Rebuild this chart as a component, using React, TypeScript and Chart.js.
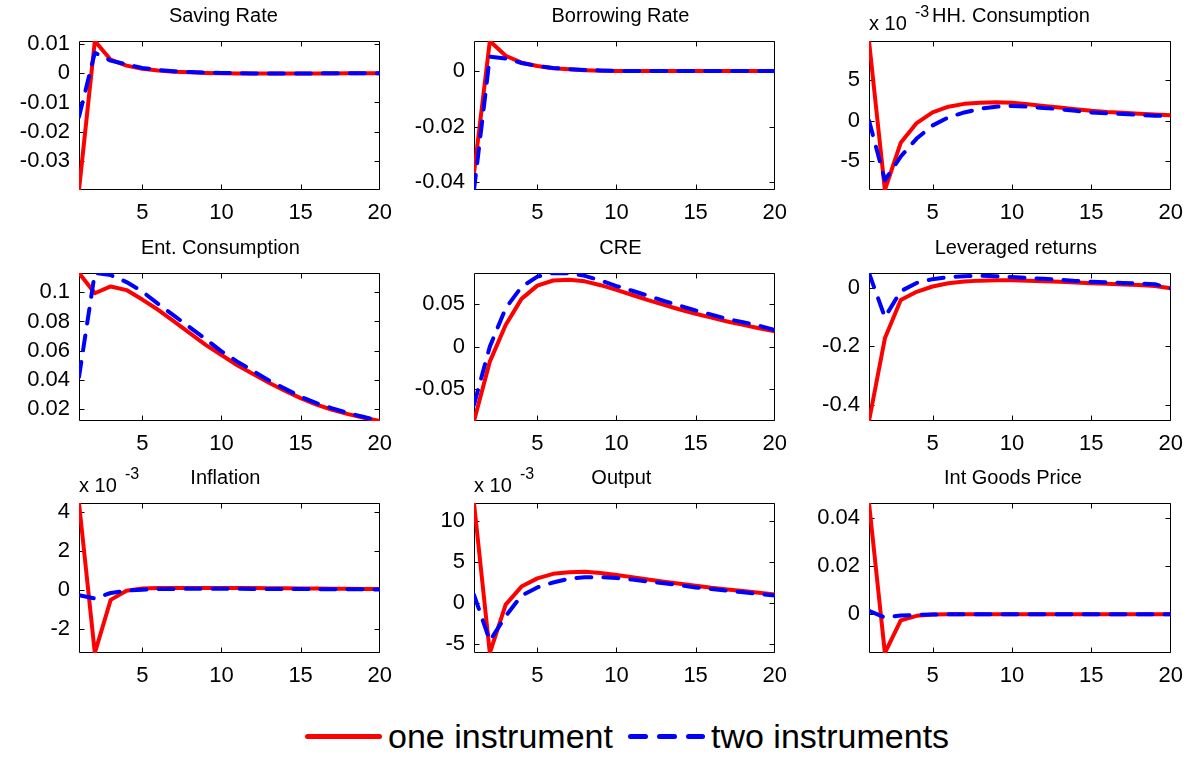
import React, { useEffect, useRef } from "react";
import { Chart, registerables } from "chart.js";

Chart.register(...registerables);

const FONT = "'Liberation Sans', Arial, Helvetica, sans-serif";
const RED = "#ff0000";
const BLUE = "#0000ff";

// ---------- data ----------
const periods = [1, 2, 3, 4, 5, 6, 7, 8, 9, 10, 11, 12, 13, 14, 15, 16, 17, 18, 19, 20];
const xTicks = [5, 10, 15, 20];
const seriesNames = ["one instrument", "two instruments"];

// Saving Rate
const savingOne = [-0.0399, 0.011, 0.0046, 0.0026, 0.0015, 0.0009, 0.0005, 0.0003, 0.0001, 0.0, -0.0001, -0.0001, -0.0001, -0.0001, -0.0001, -0.0001, -0.0001, 0.0, 0.0, 0.0];
const savingTwo = [-0.0149, 0.007, 0.0043, 0.003, 0.0018, 0.0011, 0.0007, 0.0004, 0.0002, 0.0001, 0.0, -0.0001, -0.0001, -0.0001, -0.0001, -0.0001, 0.0, 0.0, 0.0, 0.0];
const savingTicks = [-0.03, -0.02, -0.01, 0, 0.01];

// Borrowing Rate
const borrowOne = [-0.0368, 0.0108, 0.0055, 0.003, 0.0018, 0.001, 0.0006, 0.0003, 0.0001, 0.0, 0.0, 0.0, 0.0, 0.0, 0.0, 0.0, 0.0, 0.0, 0.0, 0.0];
const borrowTwo = [-0.0428, 0.0052, 0.0045, 0.0029, 0.0018, 0.0011, 0.0007, 0.0004, 0.0002, 0.0001, 0.0, 0.0, 0.0, 0.0, 0.0, 0.0, 0.0, 0.0, 0.0, 0.0];
const borrowTicks = [-0.04, -0.02, 0];

// HH. Consumption (x 10^-3)
const hhOne = [9.75, -8.5, -2.7, -0.3, 1.0, 1.7, 2.05, 2.2, 2.25, 2.2, 2.0, 1.8, 1.6, 1.4, 1.2, 1.05, 0.95, 0.85, 0.75, 0.65];
const hhTwo = [0.0, -7.3, -4.4, -2.2, -0.6, 0.4, 1.0, 1.45, 1.7, 1.8, 1.7, 1.55, 1.4, 1.2, 1.0, 0.9, 0.8, 0.7, 0.6, 0.55];
const hhTicks = [-5, 0, 5];

// Ent. Consumption
const entOne = [0.1132, 0.0993, 0.104, 0.1015, 0.095, 0.088, 0.08, 0.072, 0.064, 0.057, 0.05, 0.044, 0.038, 0.0325, 0.0275, 0.023, 0.0195, 0.0165, 0.014, 0.0118];
const entTwo = [0.042, 0.1132, 0.1118, 0.107, 0.1005, 0.092, 0.084, 0.076, 0.068, 0.0595, 0.0525, 0.046, 0.0395, 0.034, 0.0285, 0.024, 0.0205, 0.0172, 0.0145, 0.012];
const entTicks = [0.02, 0.04, 0.06, 0.08, 0.1];

// CRE
const creOne = [-0.0872, -0.0176, 0.0254, 0.056, 0.0715, 0.0775, 0.0785, 0.0765, 0.072, 0.0665, 0.0605, 0.0545, 0.049, 0.0435, 0.0385, 0.034, 0.0295, 0.0255, 0.0215, 0.018];
const creTwo = [-0.068, 0.0, 0.045, 0.07, 0.082, 0.0863, 0.0858, 0.083, 0.0775, 0.071, 0.0655, 0.0595, 0.0535, 0.048, 0.0425, 0.0375, 0.0325, 0.0285, 0.0245, 0.0195];
const creTicks = [-0.05, 0, 0.05];

// Leveraged returns
const levOne = [-0.4545, -0.1725, -0.042, -0.014, 0.004, 0.015, 0.021, 0.024, 0.025, 0.025, 0.024, 0.022, 0.02, 0.018, 0.015, 0.013, 0.011, 0.009, 0.006, -0.002];
const levTwo = [0.05, -0.101, -0.012, 0.016, 0.029, 0.036, 0.039, 0.041, 0.039, 0.036, 0.033, 0.03, 0.027, 0.023, 0.02, 0.018, 0.016, 0.014, 0.012, -0.003];
const levTicks = [-0.4, -0.2, 0];

// Inflation (x 10^-3)
const inflOne = [4.44, -3.21, -0.5, -0.03, 0.08, 0.1, 0.11, 0.11, 0.11, 0.11, 0.1, 0.1, 0.09, 0.09, 0.08, 0.08, 0.07, 0.07, 0.06, 0.06];
const inflTwo = [-0.26, -0.43, -0.15, -0.03, 0.02, 0.05, 0.06, 0.07, 0.07, 0.07, 0.07, 0.06, 0.06, 0.05, 0.05, 0.05, 0.04, 0.04, 0.04, 0.03];
const inflTicks = [-2, 0, 2, 4];

// Output (x 10^-3)
const outOne = [12.18, -6.09, -0.2, 2.0, 3.0, 3.55, 3.75, 3.8, 3.65, 3.4, 3.15, 2.85, 2.6, 2.35, 2.1, 1.85, 1.65, 1.45, 1.25, 1.05];
const outTwo = [1.0, -4.6, -1.6, 0.9, 1.9, 2.5, 2.95, 3.15, 3.15, 3.05, 2.85, 2.6, 2.4, 2.15, 1.9, 1.7, 1.5, 1.3, 1.1, 0.9];
const outTicks = [-5, 0, 5, 10];

// Int Goods Price
const igpOne = [0.0464, -0.0161, -0.0025, -0.0006, -0.0001, 0.0, 0.0, 0.0, 0.0, 0.0, 0.0, 0.0, 0.0, 0.0, 0.0, 0.0, 0.0, 0.0, 0.0, 0.0];
const igpTwo = [0.0015, -0.0013, -0.0005, -0.0002, -0.0001, 0.0, 0.0, 0.0, 0.0, 0.0, 0.0, 0.0, 0.0, 0.0, 0.0, 0.0, 0.0, 0.0, 0.0, 0.0];
const igpTicks = [0, 0.02, 0.04];

// ---------- layout ----------
const PAD_TOP = 45;
const PAD_RIGHT = 22;
const AXIS_W = 80;
const AXIS_H = 42;

type Panel = {
  title: string;
  one: number[];
  two: number[];
  yTicks: number[];
  exponent: string | null;
  left: number;
  top: number;
  width: number;
  height: number;
  titleDx: number;
};

const COLS = [79, 474, 869];
const ROWS = [
  { top: 41, height: 149 },
  { top: 273, height: 148 },
  { top: 503, height: 150 },
];

const panels: Panel[] = [
  { title: "Saving Rate", one: savingOne, two: savingTwo, yTicks: savingTicks, exponent: null, left: COLS[0], top: ROWS[0].top, width: 301, height: ROWS[0].height, titleDx: -6 },
  { title: "Borrowing Rate", one: borrowOne, two: borrowTwo, yTicks: borrowTicks, exponent: null, left: COLS[1], top: ROWS[0].top, width: 301, height: ROWS[0].height, titleDx: -4 },
  { title: "HH. Consumption", one: hhOne, two: hhTwo, yTicks: hhTicks, exponent: "-3", left: COLS[2], top: ROWS[0].top, width: 302, height: ROWS[0].height, titleDx: -9 },
  { title: "Ent. Consumption", one: entOne, two: entTwo, yTicks: entTicks, exponent: null, left: COLS[0], top: ROWS[1].top, width: 301, height: ROWS[1].height, titleDx: -9 },
  { title: "CRE", one: creOne, two: creTwo, yTicks: creTicks, exponent: null, left: COLS[1], top: ROWS[1].top, width: 301, height: ROWS[1].height, titleDx: -4 },
  { title: "Leveraged returns", one: levOne, two: levTwo, yTicks: levTicks, exponent: null, left: COLS[2], top: ROWS[1].top, width: 302, height: ROWS[1].height, titleDx: -4 },
  { title: "Inflation", one: inflOne, two: inflTwo, yTicks: inflTicks, exponent: "-3", left: COLS[0], top: ROWS[2].top, width: 301, height: ROWS[2].height, titleDx: -4 },
  { title: "Output", one: outOne, two: outTwo, yTicks: outTicks, exponent: "-3", left: COLS[1], top: ROWS[2].top, width: 301, height: ROWS[2].height, titleDx: -3 },
  { title: "Int Goods Price", one: igpOne, two: igpTwo, yTicks: igpTicks, exponent: null, left: COLS[2], top: ROWS[2].top, width: 302, height: ROWS[2].height, titleDx: -7 },
];

// ---------- plugin: MATLAB-style box, inward ticks, title, exponent ----------
const matlabAxes = {
  id: "matlabAxes",
  beforeDatasetsDraw(chart: any) {
    const { ctx, chartArea: a, scales } = chart;
    const L = Math.round(a.left) + 0.5;
    const R = Math.round(a.right) - 0.5;
    const T = Math.round(a.top) + 0.5;
    const B = Math.round(a.bottom) - 0.5;
    const TL = 5;
    ctx.save();
    ctx.strokeStyle = "#000";
    ctx.lineWidth = 1;
    ctx.beginPath();
    ctx.rect(L, T, R - L, B - T);
    scales.x.ticks.forEach((t: any) => {
      const px = Math.min(R, Math.round(scales.x.getPixelForValue(t.value)) + 0.5);
      ctx.moveTo(px, B);
      ctx.lineTo(px, B - TL);
      ctx.moveTo(px, T);
      ctx.lineTo(px, T + TL);
    });
    scales.y.ticks.forEach((t: any) => {
      const py = Math.round(scales.y.getPixelForValue(t.value)) + 0.5;
      ctx.moveTo(L, py);
      ctx.lineTo(L + TL, py);
      ctx.moveTo(R, py);
      ctx.lineTo(R - TL, py);
    });
    ctx.stroke();
    ctx.restore();
  },
  afterDraw(chart: any, _args: any, opts: any) {
    const { ctx, chartArea: a } = chart;
    ctx.save();
    ctx.fillStyle = "#000";
    ctx.textBaseline = "alphabetic";
    ctx.font = `20px ${FONT}`;
    ctx.textAlign = "center";
    ctx.fillText(opts.title, (a.left + a.right) / 2 + opts.dx, a.top - 19);
    if (opts.exponent) {
      ctx.textAlign = "left";
      ctx.font = `20px ${FONT}`;
      ctx.fillText("x 10", a.left, a.top - 11);
      ctx.font = `16px ${FONT}`;
      ctx.fillText(opts.exponent, a.left + 46, a.top - 24);
    }
    ctx.restore();
  },
};

function PanelChart({ p }: { p: Panel }) {
  const ref = useRef<HTMLCanvasElement>(null);
  useEffect(() => {
    const yMin = Math.min(...p.one, ...p.two);
    const yMax = Math.max(...p.one, ...p.two);
    const tickFont = { family: FONT, size: 22 };
    const chart = new Chart(ref.current as HTMLCanvasElement, {
      type: "line",
      data: {
        datasets: [
          {
            label: seriesNames[1],
            data: periods.map((x, i) => ({ x, y: p.two[i] })),
            borderColor: BLUE,
            backgroundColor: BLUE,
            borderWidth: 4,
            borderDash: [15, 12],
            borderCapStyle: "round",
            borderJoinStyle: "round",
            pointRadius: 0,
            tension: 0,
            fill: false,
            order: 0,
          },
          {
            label: seriesNames[0],
            data: periods.map((x, i) => ({ x, y: p.one[i] })),
            borderColor: RED,
            backgroundColor: RED,
            borderWidth: 4,
            borderJoinStyle: "round",
            pointRadius: 0,
            tension: 0,
            fill: false,
            order: 1,
          },
        ],
      },
      options: {
        animation: false,
        responsive: false,
        events: [],
        layout: { padding: { top: PAD_TOP, right: PAD_RIGHT, left: 0, bottom: 0 } },
        plugins: {
          legend: { display: false },
          tooltip: { enabled: false },
          title: { display: false },
          matlabAxes: { title: p.title, dx: p.titleDx, exponent: p.exponent },
        } as any,
        scales: {
          x: {
            type: "linear",
            min: periods[0],
            max: periods[periods.length - 1],
            bounds: "data",
            afterBuildTicks: (s: any) => {
              s.ticks = xTicks.map((v) => ({ value: v }));
            },
            afterFit: (s: any) => {
              s.height = AXIS_H;
            },
            grid: { display: false, drawTicks: false },
            border: { display: false },
            ticks: {
              autoSkip: false,
              maxRotation: 0,
              padding: 10,
              color: "#000",
              font: tickFont,
              callback: (v: any) => String(v),
            },
          },
          y: {
            type: "linear",
            min: yMin,
            max: yMax,
            bounds: "data",
            afterBuildTicks: (s: any) => {
              s.ticks = p.yTicks.map((v) => ({ value: v }));
            },
            afterFit: (s: any) => {
              s.width = AXIS_W;
            },
            grid: { display: false, drawTicks: false },
            border: { display: false },
            ticks: {
              autoSkip: false,
              padding: 9,
              color: "#000",
              font: tickFont,
              callback: (v: any) => String(v),
            },
          },
        },
      } as any,
      plugins: [matlabAxes as any],
    });
    return () => chart.destroy();
  }, [p]);
  const w = AXIS_W + p.width + PAD_RIGHT;
  const h = PAD_TOP + p.height + AXIS_H;
  return (
    <canvas
      ref={ref}
      width={w}
      height={h}
      style={{ position: "absolute", left: p.left - AXIS_W, top: p.top - PAD_TOP, width: w, height: h }}
    />
  );
}

function Legend() {
  const textStyle: React.CSSProperties = {
    position: "absolute",
    top: 719,
    fontFamily: FONT,
    fontSize: 34,
    lineHeight: "34px",
    color: "#000",
    whiteSpace: "nowrap",
  };
  const dash = (l: number, r: number): React.CSSProperties => ({
    position: "absolute",
    left: l,
    top: 734,
    width: r - l,
    height: 5,
    borderRadius: 2.5,
    background: BLUE,
  });
  return (
    <>
      <div style={{ position: "absolute", left: 305, top: 734, width: 77, height: 5, borderRadius: 2.5, background: RED }} />
      <div style={{ ...textStyle, left: 388 }}>{seriesNames[0]}</div>
      <div style={dash(628, 648)} />
      <div style={dash(657, 677)} />
      <div style={dash(686, 705)} />
      <div style={{ ...textStyle, left: 711 }}>{seriesNames[1]}</div>
    </>
  );
}

export default function App() {
  return (
    <div
      style={{
        position: "absolute",
        left: 0,
        top: 0,
        width: 1193,
        height: 758,
        background: "#ffffff",
        overflow: "hidden",
      }}
    >
      {panels.map((p) => (
        <PanelChart key={p.title} p={p} />
      ))}
      <Legend />
    </div>
  );
}
